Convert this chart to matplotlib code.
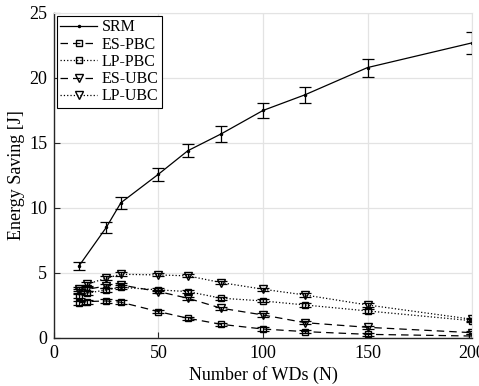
import matplotlib

matplotlib.use("Agg")
import matplotlib.pyplot as plt

# number of WDs
n_srm = [12, 25, 32, 50, 64, 80, 100, 120, 150, 200]
n_all = [12, 16, 25, 32, 50, 64, 80, 100, 120, 150, 200]

srm = [5.55, 8.5, 10.4, 12.6, 14.4, 15.7, 17.5, 18.7, 20.8, 22.7]
srm_err = [0.3, 0.4, 0.47, 0.5, 0.51, 0.59, 0.58, 0.63, 0.69, 0.83]

es_pbc = [2.7, 2.8, 2.85, 2.75, 2.03, 1.52, 1.05, 0.69, 0.49, 0.28, 0.15]
lp_pbc = [3.2, 3.45, 3.7, 3.9, 3.7, 3.57, 3.06, 2.85, 2.54, 2.08, 1.33]
es_ubc = [3.6, 3.75, 4.0, 4.08, 3.57, 3.06, 2.29, 1.77, 1.18, 0.82, 0.41]
lp_ubc = [3.75, 4.15, 4.6, 4.9, 4.85, 4.78, 4.26, 3.75, 3.31, 2.54, 1.44]
low_err = [0.15, 0.15, 0.15, 0.15, 0.12, 0.12, 0.12, 0.12, 0.12, 0.12, 0.12]

plt.rcParams["font.family"] = ["Liberation Serif", "DejaVu Serif"]
plt.rcParams["font.size"] = 13

fig = plt.figure(figsize=(4.79, 3.86), dpi=100)
ax = fig.add_axes([0.1127, 0.1244, 0.8727, 0.8420])

ekw = dict(color="black", linewidth=0.9, capsize=4, elinewidth=0.9, capthick=0.9)

handles = []
c = ax.errorbar(n_srm, srm, yerr=srm_err, linestyle="-", marker=".", markersize=3,
                label="SRM", **ekw)
handles.append(c[0])
c = ax.errorbar(n_all, es_pbc, yerr=low_err, linestyle=(0, (6, 4)), marker="s",
                markersize=5, markerfacecolor="none", label="ES-PBC", **ekw)
handles.append(c[0])
c = ax.errorbar(n_all, lp_pbc, yerr=low_err, linestyle=":", marker="s", markersize=5,
                markerfacecolor="none", label="LP-PBC", **ekw)
handles.append(c[0])
c = ax.errorbar(n_all, es_ubc, yerr=low_err, linestyle=(0, (6, 4)), marker="v",
                markersize=6, markerfacecolor="none", label="ES-UBC", **ekw)
handles.append(c[0])
c = ax.errorbar(n_all, lp_ubc, yerr=low_err, linestyle=":", marker="v", markersize=6,
                markerfacecolor="none", label="LP-UBC", **ekw)
handles.append(c[0])

ax.set_xlim(0, 200)
ax.set_ylim(0, 25)
ax.set_xticks([0, 50, 100, 150, 200])
ax.set_yticks([0, 5, 10, 15, 20, 25])
ax.grid(True, color="#e3e3e3", linewidth=0.9)
ax.set_axisbelow(True)
ax.tick_params(direction="in", length=4, colors="#262626", labelcolor="black", pad=5)
for s in ("top", "right"):
    ax.spines[s].set_color("#e3e3e3")
for s in ("left", "bottom"):
    ax.spines[s].set_color("#262626")
    ax.spines[s].set_linewidth(1.0)

ax.set_xlabel("Number of WDs (N)", labelpad=3)
ax.set_ylabel("Energy Saving [J]", labelpad=3)

leg = ax.legend(handles, ["SRM", "ES-PBC", "LP-PBC", "ES-UBC", "LP-UBC"],
                loc="upper left", fancybox=False, framealpha=1, edgecolor="black",
                fontsize=11.5, borderaxespad=0.2, handlelength=2.3, labelspacing=0.08,
                borderpad=0.2, handletextpad=0.3)
leg.get_frame().set_linewidth(0.8)

fig.savefig("out.png", dpi=100)
